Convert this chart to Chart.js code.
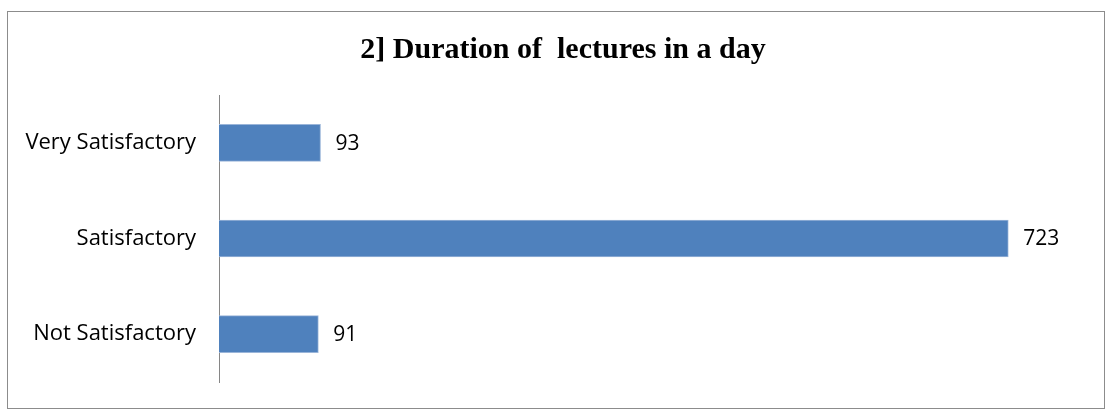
<!DOCTYPE html>
<html>
<head>
<meta charset="utf-8">
<script src="https://cdn.jsdelivr.net/npm/chart.js@4"></script>
<style>
  body { margin: 0; background: #fff; }
  #frame { position: absolute; left: 7px; top: 11px; width: 1096px; height: 396px; border: 1px solid #8c8c8c; }
  #canvas { position: absolute; left: 0; top: 0; }
</style>
</head>
<body>
<div id="frame"></div>
<canvas id="canvas" width="1112" height="410"></canvas>
<script>
var categorias = ['Very Satisfactory', 'Satisfactory', 'Not Satisfactory']
var votos = [93, 723, 91]
var titulo = '2] Duration of  lectures in a day'

// value labels to the right of each bar
var rotulos = {
  id: 'rotulos',
  afterDatasetsDraw: function(chart) {
    var ctx = chart.ctx
    var meta = chart.getDatasetMeta(0)
    ctx.save()
    ctx.font = '21px "Open Sans", sans-serif'
    ctx.fillStyle = '#000'
    ctx.textBaseline = 'middle'
    ctx.textAlign = 'left'
    meta.data.forEach(function(bar, i) {
      ctx.fillText(votos[i], bar.x + 15, bar.y + 1)
    })
    ctx.restore()
  }
}

var data = {
  labels: categorias,
  datasets: [{
    data: votos,
    backgroundColor: '#4F81BD',
    borderColor: '#9AB5D9',
    borderWidth: 1,
    barThickness: 37
  }]
}

var ctx = document.getElementById('canvas')
window.myBar = new Chart(ctx, {
  type: 'bar',
  data: data,
  plugins: [rotulos],
  options: {
    indexAxis: 'y',
    responsive: false,
    animation: false,
    // right padding below zero only moves the (hidden) end of the value axis,
    // so the title sits where the original one is
    layout: { padding: { left: 0, right: -14, top: 0, bottom: 28 } },
    plugins: {
      legend: { display: false },
      tooltip: { enabled: false },
      title: {
        display: true,
        text: titulo,
        color: '#000',
        font: { family: '"Liberation Serif", "Times New Roman", serif', size: 30, weight: 'bold', lineHeight: 1.2 },
        padding: { top: 32, bottom: 27 }
      }
    },
    scales: {
      x: { display: false, min: 0, max: 818 },
      y: {
        grid: { display: false, drawTicks: false },
        border: { display: true, color: '#868686', width: 1 },
        ticks: {
          color: '#000',
          padding: 23,
          font: { family: '"Open Sans", sans-serif', size: 22 }
        },
        afterFit: function(scale) {
          scale.width = 219
          scale.paddingTop = 0
          scale.paddingBottom = 0
        }
      }
    }
  }
})
</script>
</body>
</html>
